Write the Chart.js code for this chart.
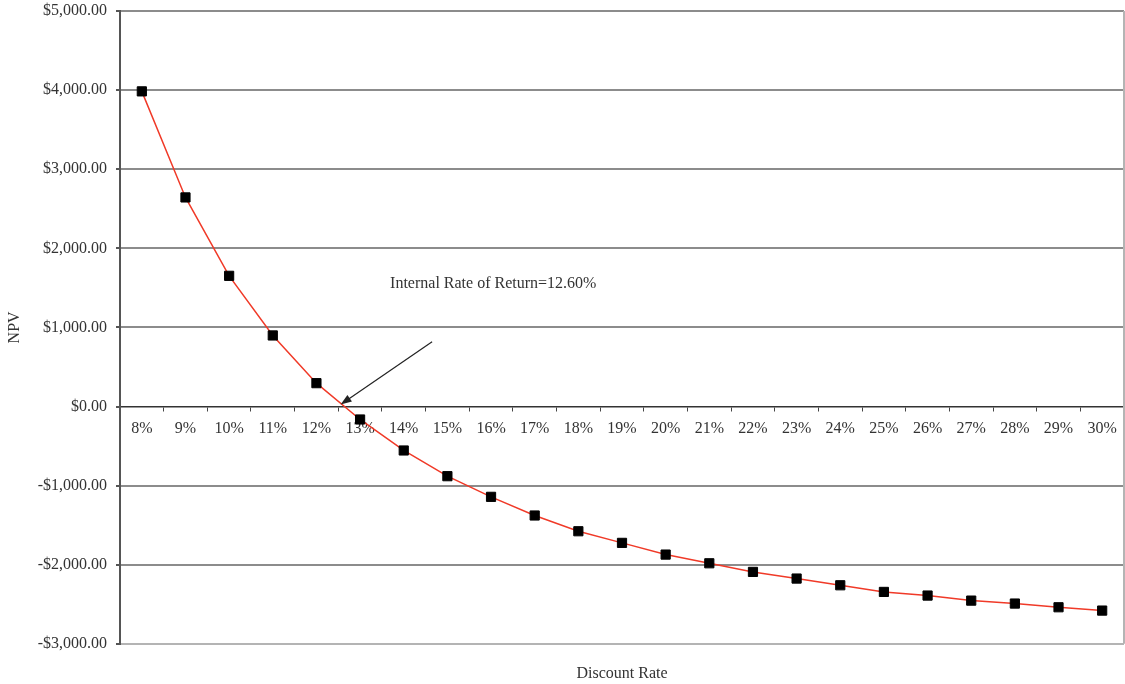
<!DOCTYPE html>
<html>
<head>
<meta charset="utf-8">
<script src="https://cdn.jsdelivr.net/npm/chart.js@4/dist/chart.umd.min.js"></script>
<style>
  html, body { margin: 0; padding: 0; background: #fff; }
</style>
</head>
<body>
<canvas id="npv" width="1125" height="684"></canvas>
<script>
// discount rates on the x axis
const rates = ["8%", "9%", "10%", "11%", "12%", "13%", "14%", "15%", "16%", "17%", "18%", "19%",
               "20%", "21%", "22%", "23%", "24%", "25%", "26%", "27%", "28%", "29%", "30%"];
// NPV
const npv = [3984, 2643, 1652, 898, 295, -164, -556, -881, -1142, -1378, -1577, -1724,
             -1872, -1982, -2091, -2175, -2260, -2344, -2390, -2454, -2491, -2538, -2580];

const irrRate = 12.6;
const irrText = "Internal Rate of Return=12.60%";

const serif = "'Liberation Serif', 'DejaVu Serif', serif";

const money = v => (v < 0 ? "-" : "") + "$" +
  Math.abs(v).toLocaleString("en-US", { minimumFractionDigits: 2, maximumFractionDigits: 2 });

/* arrow + label pointing at the IRR, placed in data space */
const irrArrow = {
  id: "irrArrow",
  afterDatasetsDraw(chart) {
    const { ctx, scales: { x, y } } = chart;
    const irrIdx = rates.indexOf("12%") + (irrRate - 12);
    const tipX = x.getPixelForValue(irrIdx) - 2, tipY = y.getPixelForValue(0) - 2;
    const tailX = x.getPixelForValue(irrIdx + 2.05), tailY = y.getPixelForValue(820);
    const ang = Math.atan2(tipY - tailY, tipX - tailX);
    ctx.save();
    ctx.strokeStyle = "#222";
    ctx.fillStyle = "#222";
    ctx.lineWidth = 1.2;
    ctx.beginPath();
    ctx.moveTo(tailX, tailY);
    ctx.lineTo(tipX - 8 * Math.cos(ang), tipY - 8 * Math.sin(ang));
    ctx.stroke();
    ctx.beginPath();
    ctx.moveTo(tipX, tipY);
    ctx.lineTo(tipX - 11 * Math.cos(ang) + 4 * Math.sin(ang), tipY - 11 * Math.sin(ang) - 4 * Math.cos(ang));
    ctx.lineTo(tipX - 11 * Math.cos(ang) - 4 * Math.sin(ang), tipY - 11 * Math.sin(ang) + 4 * Math.cos(ang));
    ctx.closePath();
    ctx.fill();
    ctx.font = "16px " + serif;
    ctx.textAlign = "center";
    ctx.textBaseline = "middle";
    ctx.fillStyle = "#333";
    ctx.fillText(irrText, x.getPixelForValue(irrIdx + 3.45), y.getPixelForValue(1555));
    ctx.restore();
  }
};

/* light frame on the right side of the plot */
const rightEdge = {
  id: "rightEdge",
  beforeDatasetsDraw(chart) {
    const { ctx, chartArea: a } = chart;
    ctx.save();
    ctx.strokeStyle = "#b4b4b4";
    ctx.lineWidth = 2;
    ctx.beginPath();
    ctx.moveTo(a.right, a.top);
    ctx.lineTo(a.right, a.bottom);
    ctx.stroke();
    ctx.restore();
  }
};

new Chart(document.getElementById("npv"), {
  type: "line",
  data: {
    labels: rates,
    datasets: [{
      label: "NPV",
      data: npv,
      borderColor: "#f03a28",
      borderWidth: 1.5,
      tension: 0,
      pointStyle: "rect",
      pointRadius: 6.5,
      pointBackgroundColor: "#000",
      pointBorderColor: "#000",
      pointBorderWidth: 1
    }]
  },
  options: {
    responsive: false,
    animation: false,
    layout: { autoPadding: false, padding: { top: 11, right: 1, left: 0, bottom: 0 } },
    plugins: {
      legend: { display: false },
      tooltip: { enabled: false },
      title: {
        display: true,
        text: "Discount Rate",
        position: "bottom",
        fullSize: false,
        color: "#333",
        font: { family: serif, size: 16, weight: "normal" },
        padding: { top: 20, bottom: 1 }
      }
    },
    scales: {
      x: {
        type: "category",
        position: { y: 0 },
        offset: true,
        grid: {
          display: true,
          drawOnChartArea: false,
          drawTicks: true,
          tickLength: 4,
          offset: true,
          color: "#444",
          tickColor: "#444"
        },
        border: { display: true, color: "#333", width: 1.5 },
        ticks: {
          color: "#333",
          font: { family: serif, size: 16 },
          padding: 9,
          maxRotation: 0,
          autoSkip: false
        },
        afterFit: s => { s.height = 0; s.paddingLeft = 0; s.paddingRight = 0; }
      },
      y: {
        min: -3000,
        max: 5000,
        ticks: {
          stepSize: 1000,
          color: "#333",
          padding: 9,
          font: { family: serif, size: 16 },
          callback: v => money(v)
        },
        grid: {
          lineWidth: 2,
          tickLength: 4,
          tickColor: "#555",
          color: c => c.tick.value === 0 ? "rgba(0,0,0,0)" : (c.tick.value === -3000 ? "#b4b4b4" : "#8c8c8c")
        },
        border: { display: true, color: "#555", width: 2 },
        title: {
          display: true,
          text: "NPV",
          color: "#333",
          font: { family: serif, size: 16 },
          padding: { top: 5, bottom: 0 }
        },
        afterFit: s => { s.width = 120; s.paddingTop = 0; s.paddingBottom = 0; }
      }
    }
  },
  plugins: [rightEdge, irrArrow]
});
</script>
</body>
</html>
